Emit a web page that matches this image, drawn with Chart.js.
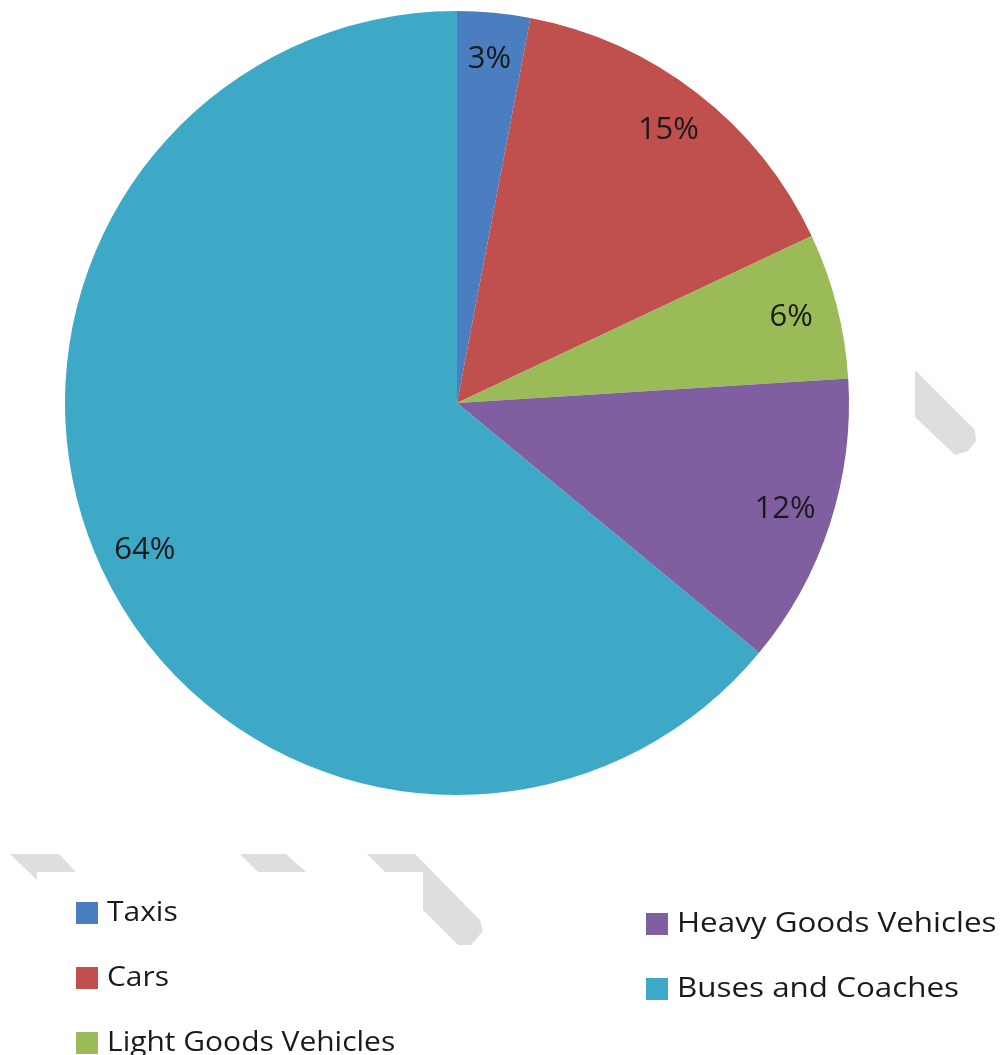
<!DOCTYPE html>
<html>
<head>
<meta charset="utf-8">
<script src="https://cdn.jsdelivr.net/npm/chart.js@4/dist/chart.umd.min.js"></script>
<style>
  html,body{margin:0;padding:0;background:#fff;}
  #wrap{width:1000px;height:1055px;position:relative;}
</style>
</head>
<body>
<div id="wrap"><canvas id="c" width="1000" height="1055"></canvas></div>
<script>
const categories = ["Taxis", "Cars", "Light Goods Vehicles", "Heavy Goods Vehicles", "Buses and Coaches"];
const shares = [3, 15, 6, 12, 64];
const colors = ["#4A7EC0", "#C0504D", "#9BBB59", "#7F5FA0", "#3DA9C6"];
const FONT = "'Open Sans', Lato, sans-serif";

// light grey background watermark shapes (decoration)
const watermark = [
  [[10,854],[59,854],[76,872],[37,872],[37,880]],
  [[240,854],[286,854],[306,872],[258,872]],
  [[367,854],[415,854],[480,920],[483,931],[471,945],[458,945],[423,910],[423,872],[385,872]],
  [[915,370],[975,430],[976,441],[968,451],[955,455],[915,417]]
];

const bgPlugin = {
  id: 'watermark',
  beforeDatasetsDraw(chart) {
    const ctx = chart.ctx;
    ctx.save();
    ctx.fillStyle = "#DEDEDE";
    watermark.forEach(poly => {
      ctx.beginPath();
      poly.forEach((pt, i) => i ? ctx.lineTo(pt[0], pt[1]) : ctx.moveTo(pt[0], pt[1]));
      ctx.closePath();
      ctx.fill();
    });
    ctx.restore();
  }
};

const labelPlugin = {
  id: 'sliceLabels',
  afterDatasetsDraw(chart) {
    const ctx = chart.ctx;
    const meta = chart.getDatasetMeta(0);
    ctx.save();
    ctx.font = "31px " + FONT;
    ctx.fillStyle = "#1a1a1a";
    ctx.textAlign = "center";
    ctx.textBaseline = "middle";
    meta.data.forEach((arc, i) => {
      const p = arc.getProps(['x','y','startAngle','endAngle','outerRadius'], true);
      const mid = (p.startAngle + p.endAngle) / 2;
      const r = p.outerRadius * 0.88;
      ctx.fillText(shares[i] + "%", p.x + Math.cos(mid) * r, p.y + Math.sin(mid) * r);
    });
    ctx.restore();
  }
};

const legendPlugin = {
  id: 'customLegend',
  afterDraw(chart) {
    const ctx = chart.ctx;
    ctx.save();
    ctx.font = "28px " + FONT;
    ctx.textBaseline = "middle";
    ctx.textAlign = "left";
    const cols = [{x: 76, y: 913, sx: 1.07, items: [0,1,2]}, {x: 646, y: 924, sx: 1.12, items: [3,4]}];
    const step = 65;
    cols.forEach(col => {
      col.items.forEach((idx, k) => {
        const cy = col.y + k * step;
        ctx.fillStyle = colors[idx];
        ctx.fillRect(col.x, cy - 11, 22, 22);
        ctx.fillStyle = "#1a1a1a";
        ctx.save();
        ctx.translate(col.x + 31, cy);
        ctx.scale(col.sx, 1);
        ctx.fillText(categories[idx], 0, 0);
        ctx.restore();
      });
    });
    ctx.restore();
  }
};

new Chart(document.getElementById('c'), {
  type: 'pie',
  data: {
    labels: categories,
    datasets: [{
      data: shares,
      backgroundColor: colors,
      borderWidth: 0
    }]
  },
  options: {
    responsive: false,
    animation: false,
    layout: { padding: { left: 65, right: 151, top: 11, bottom: 260 } },
    plugins: {
      legend: { display: false },
      tooltip: { enabled: false }
    }
  },
  plugins: [bgPlugin, labelPlugin, legendPlugin]
});
</script>
</body>
</html>
